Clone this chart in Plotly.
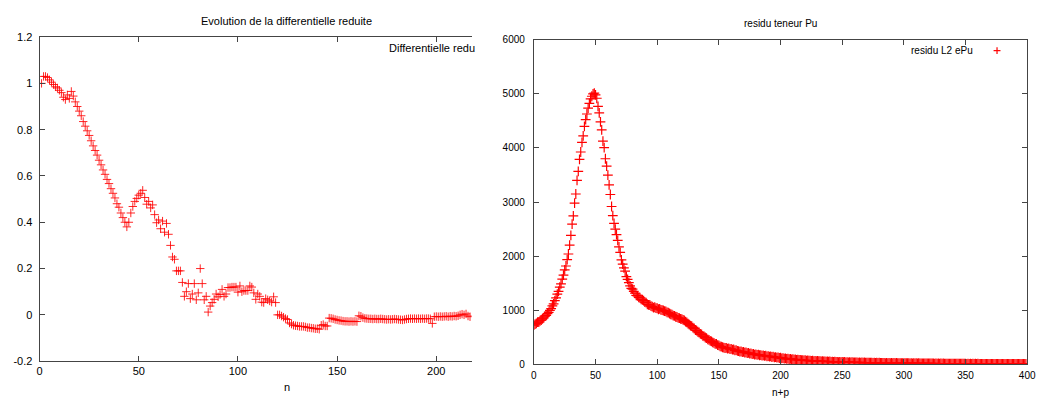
import plotly.graph_objects as go

W, H = 1052, 405

# left panel: reduced differential vs n
n_left = list(range(1, 218))
diff_reduite = [
    1.00, 1.03, 1.03, 1.025, 1.015, 1.005, 0.995, 0.985, 0.98, 0.97,
    0.96, 0.94, 0.93, 0.95, 0.935, 0.965, 0.945, 0.92, 0.90, 0.88,
    0.86, 0.835, 0.815, 0.795, 0.775, 0.752, 0.73, 0.71, 0.69, 0.668,
    0.648, 0.626, 0.607, 0.585, 0.567, 0.545, 0.525, 0.505, 0.48, 0.465,
    0.44, 0.42, 0.40, 0.38, 0.40, 0.44, 0.468, 0.49, 0.503, 0.517,
    0.525, 0.538, 0.507, 0.478, 0.49, 0.462, 0.475, 0.433, 0.398, 0.41,
    0.372, 0.405, 0.357, 0.395, 0.348, 0.30, 0.25, 0.24, 0.19, 0.19,
    0.19, 0.14, 0.08, 0.10, 0.135, 0.07, 0.09, 0.135, 0.065, 0.095,
    0.20, 0.135, 0.065, 0.08, 0.012, 0.038, 0.053, 0.067, 0.09, 0.078,
    0.088, 0.11, 0.08, 0.09, 0.118, 0.118, 0.12, 0.12, 0.12, 0.098,
    0.125, 0.10, 0.105, 0.105, 0.105, 0.125, 0.12, 0.095, 0.067, 0.09,
    0.08, 0.055, 0.053, 0.07, 0.065, 0.06, 0.055, 0.078, 0.053, 0.0,
    0.0, -0.005, -0.01, -0.016, -0.02, -0.035, -0.04, -0.045, -0.047, -0.048,
    -0.05, -0.05, -0.05, -0.052, -0.055, -0.055, -0.057, -0.058, -0.06, -0.06,
    -0.062, -0.045, -0.042, -0.048, -0.048, -0.014, -0.015, -0.017, -0.02, -0.022,
    -0.024, -0.025, -0.027, -0.028, -0.028, -0.029, -0.028, -0.029, -0.028, -0.029,
    -0.004, -0.006, -0.012, -0.015, -0.016, -0.017, -0.017, -0.018, -0.017, -0.018,
    -0.018, -0.017, -0.018, -0.019, -0.02, -0.019, -0.02, -0.019, -0.018, -0.019,
    -0.02, -0.021, -0.022, -0.02, -0.018, -0.017, -0.016, -0.017, -0.016, -0.017,
    -0.016, -0.017, -0.016, -0.017, -0.016, -0.016, -0.017, -0.037, -0.008, -0.007,
    -0.008, -0.007, -0.008, -0.007, -0.006, -0.008, -0.006, -0.007, -0.005, -0.006,
    -0.004, 0.0, 0.003, 0.0, 0.004, -0.005, -0.008,
]

# right panel: L2 residual of Pu content vs n+p
n_right = list(range(0, 400))
residu_epu = [
    720, 738, 752, 775, 779, 802, 815, 838, 856, 887,
    903, 934, 957, 995, 1028, 1078, 1116, 1174, 1226, 1294,
    1347, 1424, 1486, 1573, 1648, 1744, 1815, 1934, 2038, 2203,
    2382, 2592, 2745, 2981, 3148, 3402, 3568, 3790, 3926, 4105,
    4225, 4401, 4527, 4629, 4737, 4826, 4908, 4958, 5002, 5015,
    4985, 4921, 4772, 4651, 4485, 4334, 4126, 4005, 3801, 3664,
    3497, 3318, 3139, 2917, 2749, 2605, 2497, 2396, 2288, 2168,
    2067, 1929, 1851, 1779, 1719, 1617, 1569, 1509, 1448, 1402,
    1389, 1347, 1311, 1270, 1262, 1236, 1228, 1198, 1193, 1176,
    1148, 1139, 1104, 1097, 1093, 1071, 1064, 1046, 1052, 1037,
    1033, 1015, 1021, 1004, 998, 992, 981, 977, 958, 951,
    936, 922, 914, 897, 893, 876, 871, 856, 852, 838,
    833, 817, 809, 784, 771, 748, 731, 713, 702, 676,
    658, 631, 619, 598, 584, 558, 549, 521, 514, 492,
    481, 457, 449, 428, 421, 402, 393, 374, 372, 351,
    347, 326, 322, 311, 306, 297, 301, 284, 289, 276,
    281, 266, 270, 253, 258, 244, 239, 232, 236, 221,
    224, 212, 216, 201, 207, 193, 197, 184, 189, 176,
    181, 170, 174, 163, 167, 158, 161, 150, 155, 144,
    148, 139, 143, 131, 136, 125, 129, 118, 124, 112,
    117, 106, 111, 101, 104, 96, 99, 92, 95, 87,
    90, 83, 86, 79, 82, 75, 78, 71, 74, 69,
    71, 65, 68, 62, 65, 59, 62, 56, 60, 54,
    57, 52, 55, 49, 53, 47, 51, 45, 49, 44,
    47, 42, 45, 41, 44, 39, 42, 37, 41, 36,
    39, 35, 38, 33, 37, 32, 35, 31, 34, 30,
    33, 29, 32, 28, 31, 27, 30, 26, 29, 26,
    28, 25, 27, 24, 27, 23, 26, 22, 25, 22,
    24, 21, 23, 20, 23, 19, 22, 19, 21, 18,
    21, 18, 20, 17, 20, 17, 19, 16, 18, 16,
    18, 15, 17, 15, 17, 14, 16, 14, 16, 13,
    15, 13, 15, 12, 14, 12, 13, 11, 13, 11,
    12, 10, 12, 10, 11, 9, 11, 9, 10, 9,
    10, 8, 10, 8, 9, 8, 9, 7, 9, 7,
    8, 7, 8, 6, 8, 6, 7, 6, 7, 6,
    7, 5, 7, 5, 6, 5, 6, 5, 6, 4,
    6, 4, 5, 4, 5, 4, 5, 4, 5, 3,
    5, 3, 4, 3, 4, 3, 4, 3, 4, 3,
    4, 3, 4, 2, 3, 2, 3, 2, 3, 2,
    3, 2, 3, 2, 3, 2, 2, 2, 2, 2,
]

left_yticks = [-0.2, 0, 0.2, 0.4, 0.6, 0.8, 1.0, 1.2]
left_ytext = ["-0.2", "0", "0.2", "0.4", "0.6", "0.8", "1", "1.2"]
left_xticks = [0, 50, 100, 150, 200]
right_xticks = [0, 50, 100, 150, 200, 250, 300, 350, 400]
right_yticks = [0, 1000, 2000, 3000, 4000, 5000, 6000]


def px(x):
    return x / W


def py(y):
    return 1 - y / H


FONT = "Liberation Sans, Arial, sans-serif"

fig = go.Figure()
fig.add_trace(go.Scatter(
    x=n_left, y=diff_reduite, mode="markers", name="Differentielle reduite",
    marker=dict(symbol="cross-thin", size=6, line=dict(color="rgba(255,0,0,0.85)", width=1)),
    xaxis="x", yaxis="y", showlegend=False,
))
fig.add_trace(go.Scatter(
    x=n_right, y=residu_epu, mode="markers", name="residu L2 ePu",
    marker=dict(symbol="cross-thin", size=7, line=dict(color="#ff0000", width=1.2)),
    xaxis="x2", yaxis="y2", showlegend=False,
))

axis_common = dict(
    showgrid=False, zeroline=False, showline=True, linecolor="#444", linewidth=1,
    ticks="inside", ticklen=5, tickcolor="#444",
)
font_l = dict(family=FONT, size=11, color="black")
font_r = dict(family=FONT, size=10, color="black")

fig.update_layout(
    width=W, height=H,
    margin=dict(l=0, r=0, t=0, b=0),
    paper_bgcolor="white", plot_bgcolor="white",
    xaxis=dict(**axis_common, domain=[px(37), px(474)], range=[0, 217.8],
               tickvals=left_xticks, mirror="ticks", anchor="y", tickfont=font_l),
    yaxis=dict(**axis_common, domain=[py(366), py(32)], range=[-0.2, 1.2],
               tickvals=left_yticks, ticktext=left_ytext, mirror=False, anchor="x",
               ticklabelstandoff=4, tickfont=font_l),
    xaxis2=dict(**axis_common, domain=[px(537), px(1036)], range=[0, 400],
                tickvals=right_xticks, mirror="ticks", anchor="y2", tickfont=font_r,
                ticklabelstandoff=2),
    yaxis2=dict(**axis_common, domain=[py(369), py(35)], range=[0, 6000],
                tickvals=right_yticks, ticktext=[str(v) for v in right_yticks],
                mirror="ticks", anchor="x2", ticklabelstandoff=6, tickfont=font_r),
)

texts = [
    ("Evolution de la differentielle reduite", 287, 15, "center", 11),
    ("residu teneur Pu", 786, 18, "center", 10),
    ("n", 287, 393, "center", 11),
    ("n+p", 786, 398, "center", 10),
    ("Differentielle redu", 388, 43, "left", 11),
    ("residu L2 ePu", 983, 46, "right", 10),
]
for txt, x, y, anchor, size in texts:
    fig.add_annotation(
        text=txt, x=px(x), y=py(y), xref="paper", yref="paper",
        xanchor=anchor, yanchor="middle", showarrow=False,
        font=dict(family=FONT, size=size, color="black"),
    )

# legend key for the right panel (gnuplot draws the sample right of the text)
kx, ky, ks = 1005.5, 46, 3.5
fig.add_shape(type="line", xref="paper", yref="paper", x0=px(kx - ks), x1=px(kx + ks),
              y0=py(ky), y1=py(ky), line=dict(color="#ff0000", width=1.2))
fig.add_shape(type="line", xref="paper", yref="paper", x0=px(kx), x1=px(kx),
              y0=py(ky - ks), y1=py(ky + ks), line=dict(color="#ff0000", width=1.2))

# drop the default 8px body margin so the figure fills the window exactly
fig.write_html("out.html", config={"displayModeBar": False},
               post_script="document.body.style.margin='0';")
